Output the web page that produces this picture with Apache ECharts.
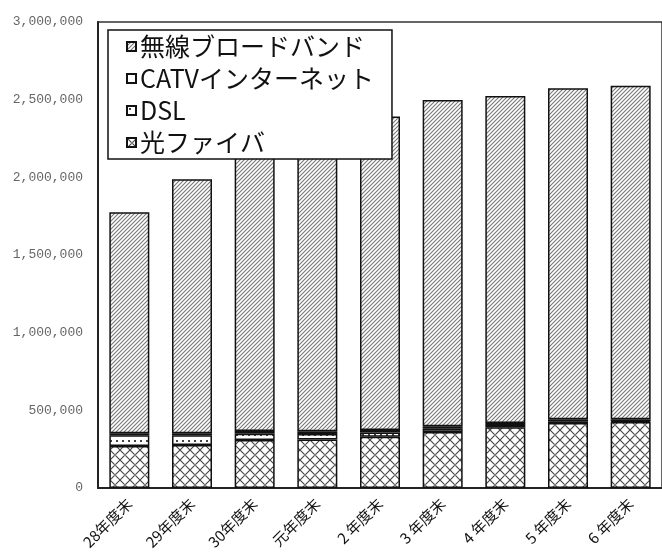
<!DOCTYPE html>
<html>
<head>
<meta charset="utf-8">
<script src="https://cdn.jsdelivr.net/npm/echarts@6/dist/echarts.min.js"></script>
<style>
html,body{margin:0;padding:0;background:#fff;}
#chart{width:662px;height:559px;}
</style>
</head>
<body>
<div id="chart"></div>
<script>
const categories = ['28年度末','29年度末','30年度末','元年度末','2 年度末','3 年度末','4 年度末','5 年度末','6 年度末'];
const fiber    = [270000, 277000, 309000, 313000, 330000, 360000, 391000, 419000, 425000];
const dsl      = [70000, 62000, 40000, 35000, 28000, 22000, 14000, 10000, 5000];
const catv     = [12000, 14000, 18000, 17000, 16000, 15000, 14000, 13000, 12000];
const wireless = [1423000, 1635000, 1813000, 1915000, 2017000, 2101000, 2105000, 2132000, 2147000];
const yTicks = [0, 500000, 1000000, 1500000, 2000000, 2500000, 3000000];

function makeCanvas(w, h, draw) {
  const c = document.createElement('canvas');
  c.width = w; c.height = h;
  const ctx = c.getContext('2d');
  ctx.fillStyle = '#fff';
  ctx.fillRect(0, 0, w, h);
  draw(ctx);
  return c;
}
const hatch = makeCanvas(4, 4, ctx => {
  ctx.strokeStyle = '#777';
  ctx.lineWidth = 1.1;
  ctx.beginPath();
  ctx.moveTo(-1, 5); ctx.lineTo(5, -1);
  ctx.moveTo(-3, 3); ctx.lineTo(3, -3);
  ctx.moveTo(1, 7); ctx.lineTo(7, 1);
  ctx.stroke();
});
const cross = makeCanvas(10, 10, ctx => {
  ctx.strokeStyle = '#444';
  ctx.lineWidth = 1.1;
  ctx.beginPath();
  ctx.moveTo(0, 0); ctx.lineTo(10, 10);
  ctx.moveTo(10, 0); ctx.lineTo(0, 10);
  ctx.stroke();
  ctx.fillStyle = '#888';
  ctx.beginPath(); ctx.arc(5, 5, 1, 0, Math.PI * 2); ctx.fill();
});
const dots = makeCanvas(6, 6, ctx => {
  ctx.fillStyle = '#444';
  ctx.fillRect(2, 2, 2, 2);
});

const border = { borderColor: '#111', borderWidth: 1.5 };

const chart = echarts.init(document.getElementById('chart'), null, { renderer: 'canvas' });
chart.setOption({
  animation: false,
  backgroundColor: '#fff',
  grid: { left: 98, top: 22, width: 567, height: 466, show: true, borderColor: '#333', borderWidth: 1.5, backgroundColor: 'transparent' },
  legend: {
    orient: 'vertical', left: 108, top: 30,
    data: ['無線ブロードバンド', 'CATVインターネット', 'DSL', '光ファイバ'],
    backgroundColor: '#fff', borderColor: '#111', borderWidth: 1.5,
    padding: [4, 18, 4, 18],
    itemWidth: 9, itemHeight: 9, itemGap: 7,
    icon: 'rect',
    textStyle: { fontFamily: 'Noto Sans CJK JP', fontSize: 25, color: '#111', padding: [0, 0, 0, -1] }
  },
  xAxis: {
    type: 'category', data: categories,
    axisLine: { lineStyle: { color: '#222', width: 2 } },
    axisTick: { inside: true, length: 5, lineStyle: { color: '#222' } },
    axisLabel: { rotate: 45, margin: 13, fontFamily: 'Noto Sans CJK JP', fontSize: 15, color: '#111' }
  },
  yAxis: {
    type: 'value', min: yTicks[0], max: yTicks[yTicks.length - 1], interval: 500000,
    axisLine: { show: true, lineStyle: { color: '#222', width: 2 } },
    axisTick: { show: false },
    splitLine: { show: false },
    axisLabel: { margin: 15, fontFamily: 'Liberation Mono', fontSize: 13, color: '#666',
      formatter: v => v.toLocaleString('en-US') }
  },
  series: [
    { name: '光ファイバ', type: 'bar', stack: 's', barWidth: 40, data: fiber,
      itemStyle: Object.assign({ color: { image: cross, repeat: 'repeat' } }, border) },
    { name: 'DSL', type: 'bar', stack: 's', barWidth: 40, data: dsl,
      itemStyle: Object.assign({ color: { image: dots, repeat: 'repeat' } }, border) },
    { name: 'CATVインターネット', type: 'bar', stack: 's', barWidth: 40, data: catv,
      itemStyle: Object.assign({ color: '#fff' }, border) },
    { name: '無線ブロードバンド', type: 'bar', stack: 's', barWidth: 40, data: wireless,
      itemStyle: Object.assign({ color: { image: hatch, repeat: 'repeat' } }, border) }
  ]
});
</script>
</body>
</html>
